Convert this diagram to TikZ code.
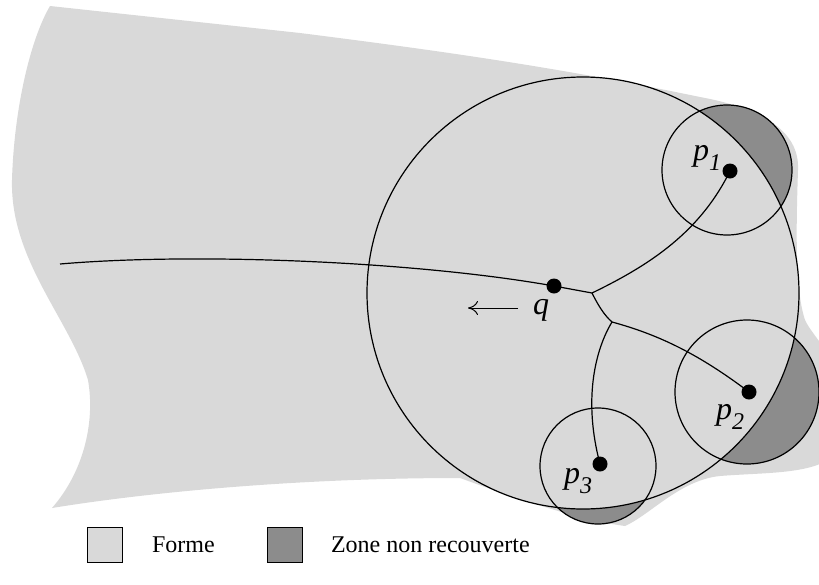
\documentclass[tikz,border=0pt]{standalone}
\usepackage{fontspec}
\setmainfont{Liberation Serif}
\usetikzlibrary{arrows.meta}
\definecolor{formegray}{gray}{0.85}
\definecolor{zonegray}{gray}{0.55}
\newcommand{\indice}[1]{\raisebox{-0.32em}{\fontsize{12}{12}\selectfont\itshape #1}}

\begin{document}
\begin{tikzpicture}[
    x=0.5pt, y=-0.5pt,
    forme/.style={fill=formegray},
    zone/.style={fill=zonegray},
    rim/.style={draw, line width=0.6pt},
    axe/.style={draw, line width=0.6pt},
    dot/.style={circle, fill=black, inner sep=0pt, minimum size=7.5pt},
    lbl/.style={font=\fontsize{16}{18}\selectfont\itshape, inner sep=0pt},
    legbox/.style={draw, line width=0.5pt, minimum size=17.5pt, inner sep=0pt},
    legend/.style={font=\fontsize{12}{14}\selectfont}
]
\useasboundingbox (0,0) rectangle (819,584);

% la forme
\fill[forme] (50,6) -- (300,33) .. controls (450,52) and (560,68) .. (700,97)
    .. controls (760,108) and (800,130) .. (798,170)
    .. controls (796,230) and (795,290) .. (805,320)
    .. controls (812,335) and (830,350) .. (840,380) -- (840,450)
    .. controls (820,475) and (770,472) .. (720,476)
    .. controls (680,480) and (650,515) .. (625,526)
    .. controls (580,520) and (520,500) .. (460,478)
    .. controls (300,478) and (150,492) .. (52,508)
    .. controls (85,470) and (95,420) .. (88,380)
    .. controls (70,320) and (10,260) .. (12,180)
    .. controls (14,110) and (30,40) .. (50,6) -- cycle;

% zones non recouvertes
\fill[zone] (727,170) circle (65);
\fill[zone] (747,392) circle (72);
\fill[zone] (598,466) circle (58);
\fill[forme] (583,293) circle (216);

% cercles
\draw[rim] (583,293) circle (216);
\draw[rim] (727,170) circle (65);
\draw[rim] (747,392) circle (72);
\draw[rim] (598,466) circle (58);

% points
\node[dot] (q) at (554,286) {};
\node[dot] (p1) at (730,171) {};
\node[dot] (p2) at (749,392) {};
\node[dot] (p3) at (600,464) {};
\coordinate (s) at (60,264);
\coordinate (j1) at (592,293);
\coordinate (j2) at (612,322);

% axe median
\path[axe] (s) .. controls (200,252) and (420,262) .. (q.center);
\path[axe] (q.center) -- (j1);
\path[axe] (j1) .. controls (650,265) and (700,232) .. (p1.center);
\path[axe] (j1) .. controls (598,305) and (604,315) .. (j2);
\path[axe] (j2) .. controls (660,335) and (700,355) .. (p2.center);
\path[axe] (j2) .. controls (595,350) and (583,400) .. (p3.center);

% etiquettes
\node[lbl] (lq) at (541,310) {q};
\node[lbl] (lp1) at (707,158) {p\indice{1}};
\node[lbl] (lp2) at (730,417) {p\indice{2}};
\node[lbl] (lp3) at (578,481) {p\indice{3}};
\coordinate (a1) at (518,308);
\coordinate (a2) at (468,308);
\draw[-{To[length=5pt, width=7pt]}, line width=0.5pt] (a1) -- (a2);

% legende
\node[legbox, fill=formegray] (bf) at (105,545) {};
\node[legend, anchor=west] (tf) at ([xshift=11pt]bf.east) {Forme};
\node[legbox, fill=zonegray] (bz) at (285,545) {};
\node[legend, anchor=west] (tz) at ([xshift=10.5pt]bz.east) {Zone non recouverte};
\end{tikzpicture}
\end{document}
